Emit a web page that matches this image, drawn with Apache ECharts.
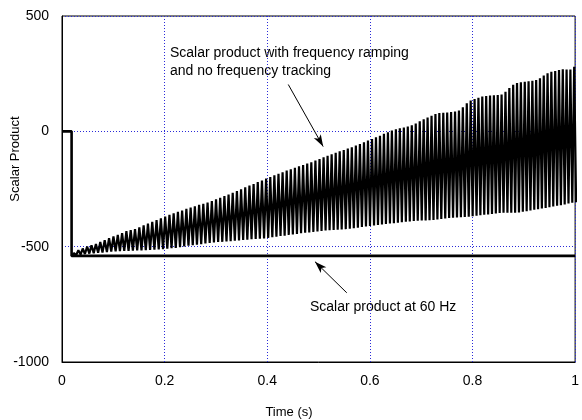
<!DOCTYPE html>
<html>
<head>
<meta charset="utf-8">
<script src="https://cdn.jsdelivr.net/npm/echarts@6/dist/echarts.min.js"></script>
<style>
  html, body { margin: 0; padding: 0; background: #fff; }
  #chart { width: 582px; height: 420px; }
</style>
</head>
<body>
<div id="chart"></div>
<script>
// Reference response: zero until the step, then held at -540 (60 Hz case)
const stepTimes = [0, 0.0187, 0.0187, 1];
const stepValues = [0, 0, -540, -540];

// Ramping-frequency response: successive maxima and minima of the oscillation
const peakTimes = [
  0.0233, 0.0319, 0.0404, 0.0490, 0.0575, 0.0661, 0.0746, 0.0832, 0.0917,
  0.1003, 0.1087, 0.1171, 0.1255, 0.1339, 0.1423, 0.1507, 0.1591, 0.1675, 0.1759, 0.1843, 0.1927,
  0.2011, 0.2094, 0.2176, 0.2259, 0.2341, 0.2424, 0.2507, 0.2589, 0.2672, 0.2754, 0.2837, 0.2920,
  0.3002, 0.3083, 0.3165, 0.3246, 0.3327, 0.3409, 0.3490, 0.3571, 0.3653, 0.3734, 0.3815, 0.3897, 0.3978,
  0.4059, 0.4139, 0.4219, 0.4299, 0.4379, 0.4459, 0.4539, 0.4619, 0.4699, 0.4779, 0.4859, 0.4939,
  0.5019, 0.5098, 0.5176, 0.5255, 0.5334, 0.5412, 0.5491, 0.5570, 0.5648, 0.5727, 0.5806, 0.5885, 0.5963,
  0.6042, 0.6119, 0.6197, 0.6274, 0.6352, 0.6429, 0.6507, 0.6584, 0.6662, 0.6739, 0.6817, 0.6894, 0.6972,
  0.7049, 0.7125, 0.7202, 0.7278, 0.7354, 0.7431, 0.7507, 0.7583, 0.7660, 0.7736, 0.7812, 0.7889, 0.7965,
  0.8041, 0.8116, 0.8191, 0.8267, 0.8342, 0.8417, 0.8492, 0.8567, 0.8643, 0.8718, 0.8793, 0.8868, 0.8943,
  0.9019, 0.9093, 0.9167, 0.9241, 0.9315, 0.9389, 0.9463, 0.9537, 0.9612, 0.9686, 0.9760, 0.9834, 0.9908, 0.9982
];
const peakValues = [
  -528, -515, -508, -500, -494, -488, -480, -472, -463,
  -456, -449, -441, -433, -428, -424, -416, -408, -400, -392, -385, -377,
  -370, -362, -355, -349, -343, -336, -330, -325, -319, -314, -309, -302,
  -295, -288, -281, -274, -267, -259, -251, -243, -235, -228, -220, -213, -205,
  -198, -191, -184, -177, -170, -164, -158, -152, -146, -140, -134, -127,
  -120, -113, -106, -100, -93, -87, -81, -75, -69, -62, -55, -47, -40,
  -33, -26, -19, -11, -4, 3, 9, 13, 17, 21, 26, 34, 44,
  52, 60, 68, 75, 79, 81, 82, 84, 86, 90, 104, 122, 134,
  140, 146, 151, 153, 155, 156, 157, 160, 172, 188, 202, 210, 213,
  215, 217, 219, 222, 230, 242, 252, 258, 262, 266, 269, 268, 268, 280
];
const troughTimes = [
  0.0187,
  0.0276, 0.0362, 0.0447, 0.0533, 0.0618, 0.0704, 0.0789, 0.0875, 0.0960,
  0.1045, 0.1129, 0.1213, 0.1297, 0.1381, 0.1465, 0.1549, 0.1633, 0.1717, 0.1801, 0.1885, 0.1969,
  0.2052, 0.2135, 0.2217, 0.2300, 0.2382, 0.2465, 0.2548, 0.2630, 0.2713, 0.2795, 0.2878, 0.2961,
  0.3043, 0.3124, 0.3206, 0.3287, 0.3368, 0.3450, 0.3531, 0.3612, 0.3694, 0.3775, 0.3856, 0.3938, 0.4019,
  0.4099, 0.4179, 0.4259, 0.4339, 0.4419, 0.4499, 0.4579, 0.4659, 0.4739, 0.4819, 0.4899, 0.4979,
  0.5058, 0.5137, 0.5215, 0.5294, 0.5373, 0.5451, 0.5530, 0.5609, 0.5687, 0.5766, 0.5845, 0.5924, 0.6002,
  0.6081, 0.6158, 0.6236, 0.6313, 0.6391, 0.6468, 0.6546, 0.6623, 0.6701, 0.6778, 0.6856, 0.6933, 0.7011,
  0.7087, 0.7163, 0.7240, 0.7316, 0.7392, 0.7469, 0.7545, 0.7621, 0.7698, 0.7774, 0.7850, 0.7927, 0.8003,
  0.8079, 0.8154, 0.8229, 0.8305, 0.8380, 0.8455, 0.8530, 0.8605, 0.8681, 0.8756, 0.8831, 0.8906, 0.8981,
  0.9056, 0.9130, 0.9204, 0.9278, 0.9352, 0.9426, 0.9500, 0.9574, 0.9649, 0.9723, 0.9797, 0.9871, 0.9945, 1.0019
];
const troughValues = [
  -540,
  -537, -534, -532, -530, -528, -526, -525, -523, -521,
  -520, -519, -518, -518, -517, -516, -516, -515, -514, -513, -512, -511,
  -509, -507, -505, -502, -499, -496, -494, -491, -489, -486, -484, -482,
  -480, -479, -477, -476, -474, -473, -471, -470, -468, -467, -466, -464, -462,
  -459, -457, -454, -452, -449, -447, -445, -442, -440, -438, -436, -434,
  -432, -430, -429, -428, -427, -425, -424, -422, -420, -418, -415, -413, -410,
  -408, -406, -404, -402, -400, -398, -396, -394, -392, -391, -389, -388, -387,
  -386, -385, -384, -382, -380, -378, -376, -375, -373, -372, -371, -370, -368,
  -366, -364, -362, -360, -358, -356, -354, -353, -353, -353, -353, -352, -349,
  -346, -343, -340, -338, -335, -332, -329, -326, -323, -320, -317, -313, -310, -307
];

// Axis ticks
const xTicks = [0, 0.2, 0.4, 0.6, 0.8, 1];
const yTicks = [-1000, -500, 0, 500];

// Annotation texts and arrow end points (data coordinates: [time, value])
const noteRamp = 'Scalar product with frequency ramping\nand no frequency tracking';
const noteFixed = 'Scalar product at 60 Hz';
const arrowRamp = [[0.441, 203], [0.509, -66]];
const arrowFixed = [[0.555, -700], [0.493, -565]];

const FONT = '"Liberation Sans", Arial, Helvetica, sans-serif';

const stepData = stepTimes.map((t, i) => [t, stepValues[i]]);
const rampData = [[troughTimes[0], troughValues[0]]];
for (let i = 0; i < peakTimes.length; i++) {
  rampData.push([peakTimes[i], peakValues[i]]);
  rampData.push([troughTimes[i + 1], troughValues[i + 1]]);
}

const chart = echarts.init(document.getElementById('chart'), null, { renderer: 'canvas' });

const gridLine = { show: true, lineStyle: { color: '#2a2ad8', width: 1, type: [1, 2] } };

chart.setOption({
  animation: false,
  backgroundColor: '#fff',
  grid: { left: 62, right: 1, top: 16, bottom: 58, show: true, borderColor: '#000', borderWidth: 1, backgroundColor: 'transparent' },
  xAxis: {
    type: 'value',
    min: xTicks[0],
    max: xTicks[xTicks.length - 1],
    interval: 0.2,
    axisLine: { show: true, onZero: false, lineStyle: { color: '#000', width: 1 } },
    axisTick: { show: false },
    axisLabel: { color: '#000', fontSize: 14, fontFamily: FONT, margin: 12, showMaxLabel: true, showMinLabel: true,
      formatter: v => String(+v.toFixed(1)) },
    splitLine: gridLine
  },
  yAxis: {
    type: 'value',
    min: yTicks[0],
    max: yTicks[yTicks.length - 1],
    interval: 500,
    axisLine: { show: true, onZero: false, lineStyle: { color: '#000', width: 1 } },
    axisTick: { show: false },
    axisLabel: { color: '#000', fontSize: 14, fontFamily: FONT, margin: 13, formatter: v => String(v) },
    splitLine: gridLine
  },
  series: [
    {
      name: 'Scalar product with frequency ramping',
      type: 'line',
      data: rampData,
      showSymbol: false,
      symbol: 'none',
      sampling: false,
      silent: true,
      lineStyle: { color: '#000', width: 2.2 },
      z: 3
    },
    {
      name: 'Scalar product at 60 Hz',
      type: 'line',
      data: stepData,
      showSymbol: false,
      symbol: 'none',
      silent: true,
      lineStyle: { color: '#000', width: 2.6 },
      z: 4,
      markLine: {
        silent: true,
        animation: false,
        symbol: ['none', 'arrow'],
        symbolSize: [6, 12],
        label: { show: false },
        lineStyle: { color: '#000', width: 1, type: 'solid' },
        emphasis: { disabled: true },
        data: [
          [{ coord: arrowRamp[0] }, { coord: arrowRamp[1] }],
          [{ coord: arrowFixed[0] }, { coord: arrowFixed[1] }]
        ]
      }
    }
  ],
  graphic: [
    {
      type: 'text', x: 170, y: 44, silent: true,
      style: { text: noteRamp, fill: '#000', font: '14px ' + FONT, lineHeight: 18 }
    },
    {
      type: 'text', x: 310, y: 300, silent: true,
      style: { text: noteFixed, fill: '#000', font: '14px ' + FONT }
    },
    {
      type: 'text', x: 289, y: 412, silent: true,
      style: { text: 'Time (s)', fill: '#000', font: '13px ' + FONT, align: 'center', verticalAlign: 'middle', textAlign: 'center', textVerticalAlign: 'middle' }
    },
    {
      type: 'text', x: 15, y: 159, rotation: Math.PI / 2, silent: true,
      style: { text: 'Scalar Product', fill: '#000', font: '13px ' + FONT, align: 'center', verticalAlign: 'middle', textAlign: 'center', textVerticalAlign: 'middle' }
    }
  ]
});
</script>
</body>
</html>
